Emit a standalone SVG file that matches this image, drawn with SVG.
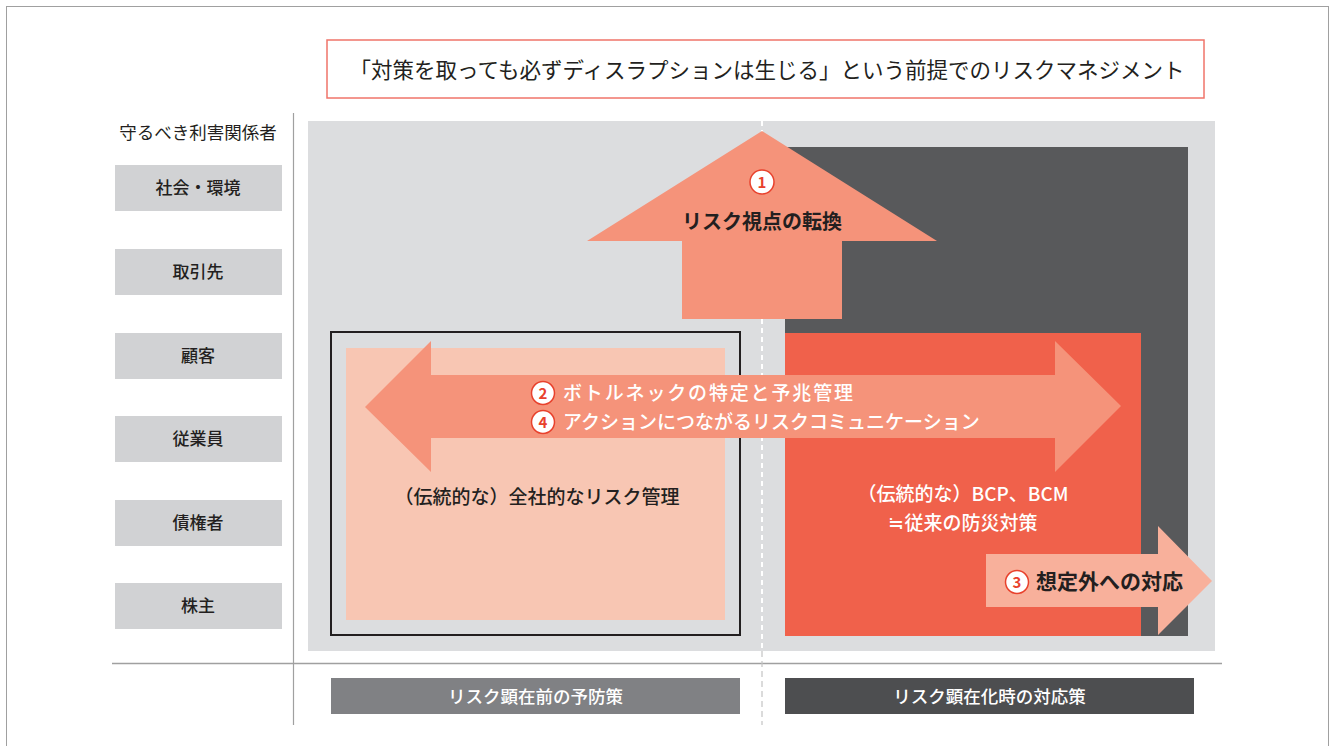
<svg xmlns="http://www.w3.org/2000/svg" width="1330" height="746" viewBox="0 0 1330 746">
<style>
text{font-family:"Noto Sans CJK JP","Noto Sans",sans-serif;}
.lbl{font-size:17px;fill:#231f20;font-weight:500;text-anchor:middle;}
.lblbox{fill:#d1d2d4;}
.main{font-size:19px;font-weight:500;}
.num{fill:#fff;stroke:#e8412c;stroke-width:1.5;}
.numt{font-size:15px;font-weight:700;fill:#e8412c;text-anchor:middle;}
.foot{font-size:17.5px;fill:#fff;text-anchor:middle;font-weight:500;}
</style>
<rect x="0" y="0" width="1330" height="746" fill="#fff"/>
<rect x="6.5" y="6.5" width="1322" height="760" fill="none" stroke="#a0a0a0" stroke-width="1"/>

<g id="title">
<rect x="327" y="40" width="877" height="58" fill="#fff" stroke="#f0746a" stroke-width="1.5"/>
<text x="767" y="78" font-size="21.5" fill="#231f20" text-anchor="middle">「対策を取っても必ずディスラプションは生じる」という前提でのリスクマネジメント</text>
</g>

<g id="axes">
<line x1="293.5" y1="113" x2="293.5" y2="725" stroke="#a0a0a0" stroke-width="1.2"/>
<line x1="112" y1="663.5" x2="1222" y2="663.5" stroke="#a0a0a0" stroke-width="1.5"/>
</g>

<g id="field">
<rect x="308" y="121" width="907" height="530" fill="#dcdddf"/>
<rect x="785" y="147" width="403" height="489" fill="#58595b"/>
</g>

<g id="stakeholders">
<text x="198" y="139" font-size="17.5" fill="#231f20" text-anchor="middle">守るべき利害関係者</text>
<g id="s1"><rect class="lblbox" x="115" y="165" width="167" height="46"/><text class="lbl" x="198" y="194">社会・環境</text></g>
<g id="s2"><rect class="lblbox" x="115" y="249" width="167" height="46"/><text class="lbl" x="198" y="278">取引先</text></g>
<g id="s3"><rect class="lblbox" x="115" y="333" width="167" height="46"/><text class="lbl" x="198" y="362">顧客</text></g>
<g id="s4"><rect class="lblbox" x="115" y="416" width="167" height="46"/><text class="lbl" x="198" y="445">従業員</text></g>
<g id="s5"><rect class="lblbox" x="115" y="500" width="167" height="46"/><text class="lbl" x="198" y="529">債権者</text></g>
<g id="s6"><rect class="lblbox" x="115" y="583" width="167" height="46"/><text class="lbl" x="198" y="612">株主</text></g>
</g>

<g id="traditional-erm">
<rect x="331" y="332" width="409" height="303" fill="none" stroke="#231f20" stroke-width="2"/>
<rect x="346" y="348" width="379" height="272" fill="#f8c6b3"/>
<text class="main" x="537" y="504" fill="#231f20" text-anchor="middle">（伝統的な）全社的なリスク管理</text>
</g>

<g id="traditional-bcp">
<rect x="785" y="333" width="356" height="303" fill="#f0614b"/>
<text class="main" x="963" y="501" fill="#fff" text-anchor="middle">（伝統的な）BCP、BCM</text>
<text class="main" x="963" y="530" fill="#fff" text-anchor="middle">≒従来の防災対策</text>
</g>

<g id="divider">
<line x1="762" y1="121" x2="762" y2="651" stroke="#fff" stroke-width="2" stroke-dasharray="5,4"/>
<line x1="762" y1="651" x2="762" y2="725" stroke="#c4c4c4" stroke-width="1.2" stroke-dasharray="6,4"/>
</g>

<g id="connectors">
<polygon id="arrow1" points="762,131 937,241 842,241 842,319 682,319 682,241 587,241" fill="#f5937a"/>
<polygon id="arrow24" points="365,407 431,341 431,375 1055,375 1055,341 1121,406 1055,472 1055,438 431,438 431,472" fill="#f5937a"/>
<polygon id="arrow3" points="986,554 1158,554 1158,526 1212,581 1158,635 1158,607 986,607" fill="#f8b09b"/>
</g>

<g id="label1">
<circle class="num" cx="762" cy="182" r="12"/>
<text class="numt" x="762" y="187.5">1</text>
<text x="762" y="229" font-size="20" font-weight="700" fill="#231f20" text-anchor="middle">リスク視点の転換</text>
</g>

<g id="label2">
<circle class="num" cx="543" cy="393" r="11.5"/>
<text class="numt" x="543" y="398.5">2</text>
<text class="main" x="563" y="400" fill="#fff" textLength="290" lengthAdjust="spacing">ボトルネックの特定と予兆管理</text>
</g>

<g id="label4">
<circle class="num" cx="543" cy="422" r="11.5"/>
<text class="numt" x="543" y="427.5">4</text>
<text class="main" x="563" y="429" fill="#fff">アクションにつながるリスクコミュニケーション</text>
</g>

<g id="label3">
<circle class="num" cx="1017" cy="582" r="11.5"/>
<text class="numt" x="1017" y="587.5">3</text>
<text x="1036" y="589" font-size="21" font-weight="700" fill="#231f20">想定外への対応</text>
</g>

<g id="footer">
<g id="f1"><rect x="331" y="678" width="409" height="36" fill="#808184"/><text class="foot" x="535.5" y="702.5">リスク顕在前の予防策</text></g>
<g id="f2"><rect x="785" y="678" width="409" height="36" fill="#4d4e50"/><text class="foot" x="989.5" y="702.5">リスク顕在化時の対応策</text></g>
</g>
</svg>
